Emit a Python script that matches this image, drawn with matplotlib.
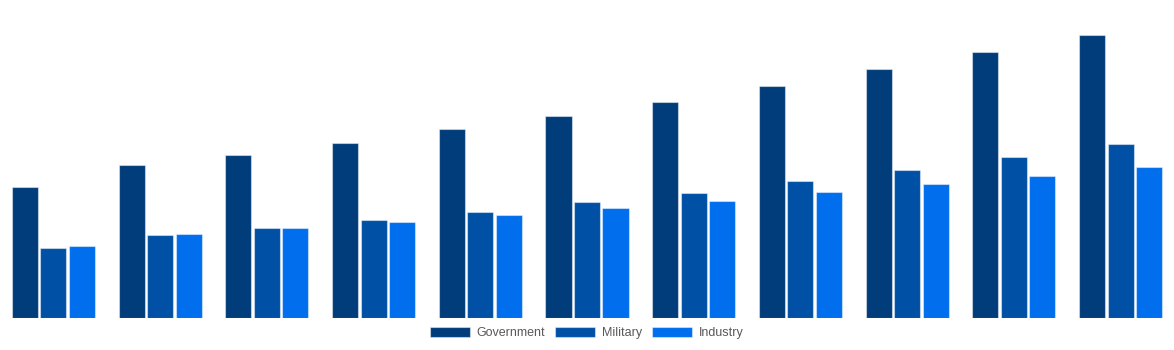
import numpy as np
import matplotlib.pyplot as plt

plt.rcParams['font.family'] = ['Liberation Sans', 'DejaVu Sans']

# 三组数据，每组11个时间点
categories = list(range(1, 12))
government = [131, 153, 163, 175, 189, 202, 216, 232, 249, 266, 283]
military = [70, 83, 90, 98, 106, 116, 125, 137, 148, 161, 174]
industry = [72, 84, 90, 96, 103, 110, 117, 126, 134, 142, 151]

series = ['Government', 'Military', 'Industry']
colors = ['#023d7b', '#0051a6', '#006eed']

fig = plt.figure(figsize=(11.74, 3.5), dpi=100)
ax = fig.add_axes([0, 1 - 318 / 350, 1, 318 / 350])

x = np.arange(len(categories))
width = 0.244
step = 0.267
for i, (name, vals, c) in enumerate(zip(series, [government, military, industry], colors)):
    ax.bar(x + (i - 1) * step, vals, width, color=c, label=name,
           edgecolor=(1, 1, 1, 0.45), linewidth=0.8)

ax.set_xlim(-0.5, len(categories) - 0.5)
ax.set_ylim(0, 318)
ax.axis('off')

fig.legend(loc='center', bbox_to_anchor=(0.5, 1 - 333 / 350), ncol=3, frameon=False,
           fontsize=9, labelcolor='#595959', handlelength=3.2, handleheight=0.9,
           handletextpad=0.55, columnspacing=0.8)

plt.savefig('out.png', dpi=100)
